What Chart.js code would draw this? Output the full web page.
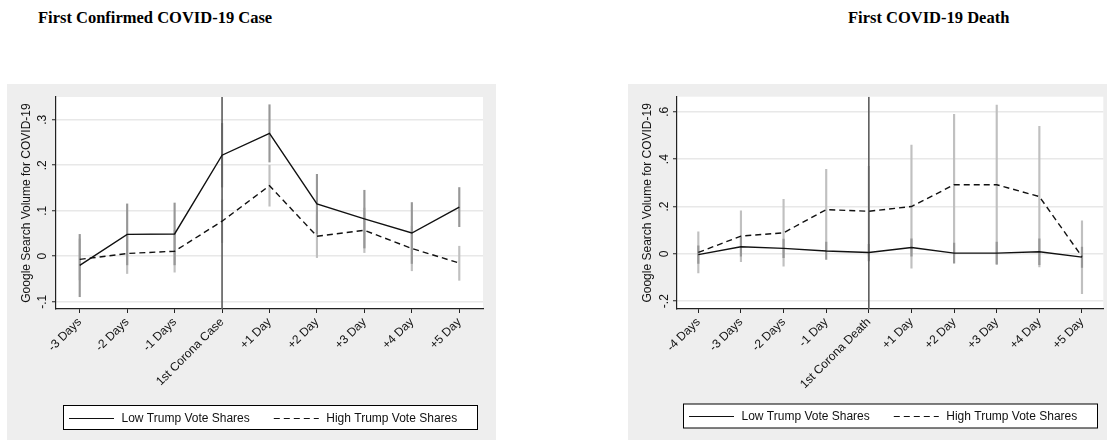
<!DOCTYPE html>
<html>
<head>
<meta charset="utf-8">
<title>Google Search Volume for COVID-19</title>
<script src="https://cdn.jsdelivr.net/npm/chart.js"></script>
<style>
  body { margin: 0; width: 1107px; height: 440px; background: #fff; position: relative; overflow: hidden; }
  .title { position: absolute; top: 10px; font: bold 16.5px/16.5px "Liberation Serif", "Times New Roman", serif; color: #000; white-space: nowrap; }
  .panel { position: absolute; top: 84px; height: 356px; }
  canvas { display: block; }
</style>
</head>
<body>
<div class="title" style="left:38px">First Confirmed COVID-19 Case</div>
<div class="title" style="left:848px">First COVID-19 Death</div>
<div class="panel" style="left:7px; width:489px"><canvas id="caseChart" width="489" height="356"></canvas></div>
<div class="panel" style="left:628px; width:479px"><canvas id="deathChart" width="479" height="356"></canvas></div>

<script>
    // --- first confirmed case ---
    const caseDays = ['-3 Days', '-2 Days', '-1 Days', '1st Corona Case', '+1 Day', '+2 Day', '+3 Day', '+4 Day', '+5 Day'];
    const caseLow = [-0.020, 0.048, 0.049, 0.222, 0.270, 0.115, 0.082, 0.051, 0.108];
    const caseLowLower = [-0.089, -0.019, -0.019, 0.152, 0.207, 0.049, 0.018, -0.016, 0.065];
    const caseLowUpper = [0.048, 0.115, 0.117, 0.292, 0.333, 0.180, 0.145, 0.118, 0.151];
    const caseHigh = [-0.007, 0.006, 0.011, 0.077, 0.155, 0.044, 0.057, 0.017, -0.015];
    const caseHighLower = [-0.052, -0.038, -0.035, 0.030, 0.110, -0.003, 0.008, -0.032, -0.053];
    const caseHighUpper = [0.038, 0.050, 0.057, 0.124, 0.200, 0.091, 0.106, 0.066, 0.022];
    const caseYTicks = [-0.1, 0, 0.1, 0.2, 0.3];
    const caseYTickLabels = ['-.1', '0', '.1', '.2', '.3'];

    // --- first death ---
    const deathDays = ['-4 Days', '-3 Days', '-2 Days', '-1 Day', '1st Corona Death', '+1 Day', '+2 Day', '+3 Day', '+4 Day', '+5 Day'];
    const deathLow = [-0.003, 0.030, 0.023, 0.012, 0.006, 0.027, 0.003, 0.003, 0.009, -0.014];
    const deathLowLower = [-0.040, -0.010, -0.016, -0.024, -0.030, -0.010, -0.039, -0.044, -0.046, -0.057];
    const deathLowUpper = [0.034, 0.070, 0.062, 0.050, 0.040, 0.064, 0.045, 0.050, 0.064, 0.029];
    const deathHigh = [0.006, 0.075, 0.089, 0.187, 0.180, 0.200, 0.292, 0.292, 0.242, -0.012];
    const deathHighLower = [-0.081, -0.033, -0.052, 0.016, -0.010, -0.060, -0.005, -0.044, -0.055, -0.168];
    const deathHighUpper = [0.093, 0.182, 0.230, 0.357, 0.370, 0.460, 0.590, 0.629, 0.539, 0.140];
    const deathYTicks = [-0.2, 0, 0.2, 0.4, 0.6];
    const deathYTickLabels = ['-.2', '0', '.2', '.4', '.6'];

    const lowName = 'Low Trump Vote Shares';
    const highName = 'High Trump Vote Shares';

    Chart.defaults.font.family = '"Liberation Sans", Arial, sans-serif';
    Chart.defaults.font.size = 12;
    Chart.defaults.color = '#111';

    // grey graph region with a white plot area
    const panelBackground = {
        id: 'panelBackground',
        beforeDraw(chart) {
            const {ctx, chartArea: a} = chart;
            ctx.save();
            ctx.fillStyle = '#eeeeee';
            ctx.fillRect(0, 0, chart.width, chart.height);
            ctx.fillStyle = '#ffffff';
            ctx.fillRect(a.left, a.top, a.right - a.left, a.bottom - a.top);
            ctx.restore();
        }
    };

    // boxed legend under the plot, centred on the plot area
    const boxLegend = {
        id: 'boxLegend',
        afterDraw(chart, args, opts) {
            const ctx = chart.ctx;
            const items = chart.data.datasets.filter(d => d.type === 'line' && d.label);
            const sample = 45, textGap = 7.5, itemGap = 24;
            ctx.save();
            ctx.font = '12px "Liberation Sans", Arial, sans-serif';
            const widths = items.map(d => ctx.measureText(d.label).width);
            let content = 0;
            items.forEach((d, i) => { content += sample + textGap + widths[i]; });
            content += itemGap * (items.length - 1);
            const w = Math.round(content + opts.padLeft + opts.padRight);
            const cx = (chart.chartArea.left + chart.chartArea.right) / 2;
            const x0 = Math.round(cx - w / 2) + 0.5;
            const y0 = opts.top + 0.5;
            ctx.fillStyle = '#fff';
            ctx.fillRect(x0, y0, w, opts.height);
            ctx.strokeStyle = '#000';
            ctx.lineWidth = 1;
            ctx.strokeRect(x0, y0, w, opts.height);
            const ym = y0 + opts.height / 2;
            let x = x0 + opts.padLeft;
            items.forEach((d, i) => {
                ctx.beginPath();
                ctx.setLineDash(d.borderDash || []);
                ctx.strokeStyle = d.borderColor;
                ctx.moveTo(x, Math.round(ym) + 0.5);
                ctx.lineTo(x + sample, Math.round(ym) + 0.5);
                ctx.stroke();
                ctx.setLineDash([]);
                x += sample + textGap;
                ctx.fillStyle = '#111';
                ctx.textBaseline = 'middle';
                ctx.fillText(d.label, x, ym + 1);
                x += widths[i] + itemGap;
            });
            ctx.restore();
        }
    };

    function eventChart(id, s) {
        return new Chart(document.getElementById(id), {
            type: 'bar',
            data: {
                labels: s.days,
                datasets: [
                    {
                        type: 'line', label: lowName, data: s.low,
                        borderColor: '#111', borderWidth: 1.4, pointRadius: 0, tension: 0, order: 0
                    },
                    {
                        type: 'line', label: highName, data: s.high,
                        borderColor: '#111', borderWidth: 1.4, borderDash: [6, 4], pointRadius: 0, tension: 0, order: 0
                    },
                    {
                        // event day marker
                        type: 'line', data: [{x: s.event, y: s.yMax}, {x: s.event, y: s.yMin}],
                        borderColor: '#5c5c5c', borderWidth: 1.6, pointRadius: 0, order: 1
                    },
                    {
                        data: s.lowLower.map((v, i) => [v, s.lowUpper[i]]),
                        backgroundColor: '#979797', barThickness: 1.5, grouped: false, order: 2
                    },
                    {
                        data: s.highLower.map((v, i) => [v, s.highUpper[i]]),
                        backgroundColor: '#c0c0c0', barThickness: 1.5, grouped: false, order: 3
                    }
                ]
            },
            options: {
                responsive: false,
                animation: false,
                events: [],
                layout: {padding: {top: s.padTop, right: s.padRight, left: 0, bottom: 0}},
                plugins: {
                    legend: {display: false},
                    tooltip: {enabled: false},
                    boxLegend: {top: s.legendTop, height: 24, padLeft: 5.5, padRight: 20}
                },
                scales: {
                    x: {
                        type: 'category',
                        offset: true,
                        grid: {display: true, drawOnChartArea: false, drawTicks: true, tickLength: 4, tickColor: '#222', offset: false},
                        border: {display: true, color: '#222', width: 1.2},
                        ticks: {autoSkip: false, minRotation: 45, maxRotation: 45, padding: 2, color: '#111'},
                        afterFit: scale => { scale.height = 131; }
                    },
                    y: {
                        type: 'linear',
                        min: s.yMin,
                        max: s.yMax,
                        afterBuildTicks: scale => { scale.ticks = s.yTicks.map(v => ({value: v})); },
                        grid: {color: '#e8e8e8', lineWidth: 1.5, drawTicks: true, tickLength: 4, tickColor: '#222', tickWidth: 1},
                        border: {display: true, color: '#222', width: 1.2},
                        ticks: {minRotation: 90, maxRotation: 90, crossAlign: 'center', padding: s.yLabelPad, color: '#111',
                            callback: (v, i) => s.yTickLabels[i]},
                        title: {display: true, text: 'Google Search Volume for COVID-19', color: '#111',
                            font: {size: 12}, padding: {top: 12.8, bottom: 0}},
                        afterFit: scale => { scale.width = 49; }
                    }
                }
            },
            plugins: [panelBackground, boxLegend]
        });
    }

    eventChart('caseChart', {
        days: caseDays, event: '1st Corona Case',
        low: caseLow, lowLower: caseLowLower, lowUpper: caseLowUpper,
        high: caseHigh, highLower: caseHighLower, highUpper: caseHighUpper,
        yMin: -0.116, yMax: 0.35, yTicks: caseYTicks, yTickLabels: caseYTickLabels,
        padTop: 13, padRight: 13, legendTop: 321, yLabelPad: 2
    });

    eventChart('deathChart', {
        days: deathDays, event: '1st Corona Death',
        low: deathLow, lowLower: deathLowLower, lowUpper: deathLowUpper,
        high: deathHigh, highLower: deathHighLower, highUpper: deathHighUpper,
        yMin: -0.233, yMax: 0.664, yTicks: deathYTicks, yTickLabels: deathYTickLabels,
        padTop: 12.7, padRight: 3.7, legendTop: 319.5, yLabelPad: 1
    });
</script>
</body>
</html>
